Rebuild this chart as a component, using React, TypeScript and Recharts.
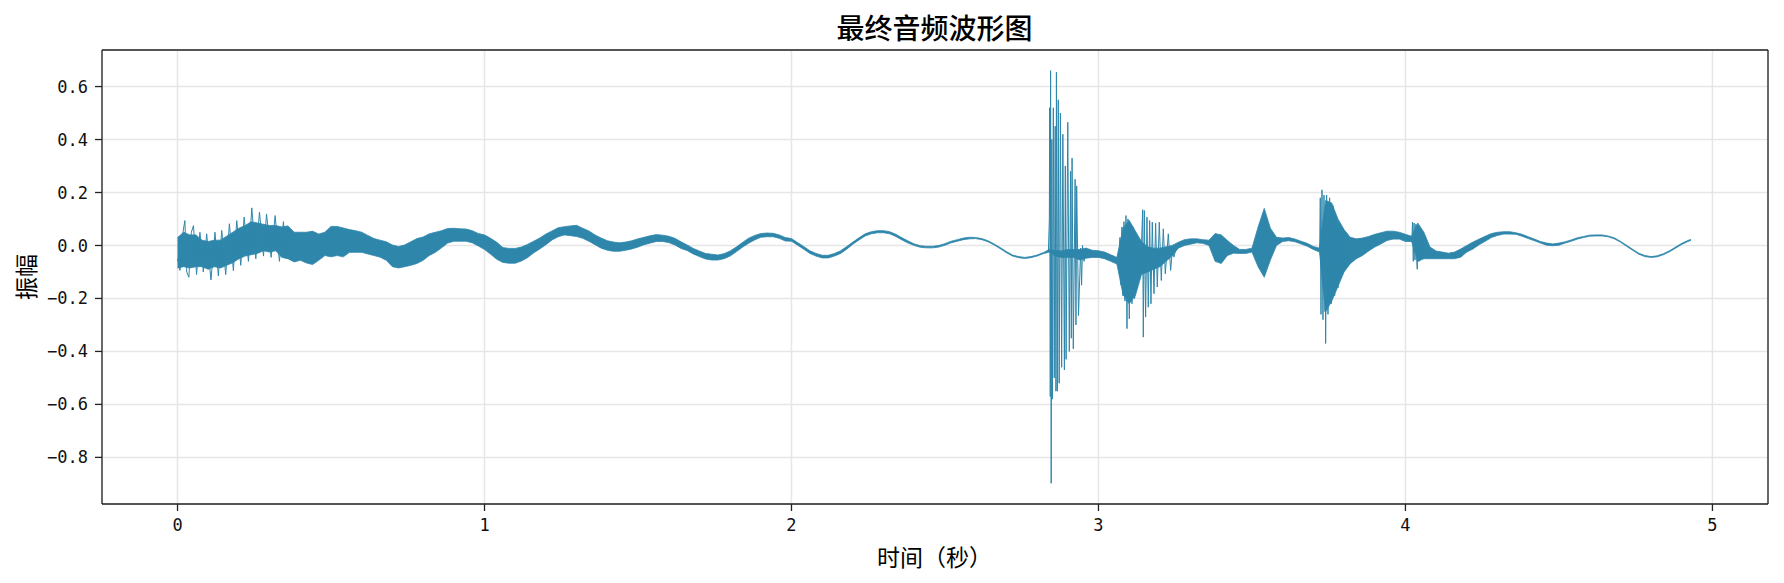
import React from 'react';
import { ComposedChart, Area, Line, XAxis, YAxis, CartesianGrid, ReferenceLine } from 'recharts';

// ---------- axes / labels ----------
const TITLE = '最终音频波形图';
const X_LABEL = '时间（秒）';
const Y_LABEL = '振幅';
const xTicks = [0, 1, 2, 3, 4, 5];
const yTicks = [-0.8, -0.6, -0.4, -0.2, 0.0, 0.2, 0.4, 0.6];
const X_MIN = -0.246;
const X_MAX = 5.181;
const Y_MIN = -0.976;
const Y_MAX = 0.738;

// ---------- waveform envelope, one bin every 0.02 s (0.00 .. 4.92) ----------
const BIN_STEP = 0.02;
const envHigh = [
  0.030, 0.050, 0.040, 0.040, 0.020, 0.015, 0.020, 0.020, 0.035, 0.050, // 0.00
  0.065, 0.075, 0.090, 0.085, 0.080, 0.075, 0.075, 0.070, 0.074, 0.050, // 0.20
  0.050, 0.050, 0.054, 0.043, 0.050, 0.072, 0.072, 0.066, 0.060, 0.056, // 0.40
  0.050, 0.038, 0.026, 0.020, 0.014, 0.002, -0.004, 0.002, 0.014, 0.026, // 0.60
  0.032, 0.044, 0.050, 0.056, 0.064, 0.065, 0.063, 0.062, 0.056, 0.045, // 0.80
  0.040, 0.027, 0.012, -0.008, -0.011, -0.011, -0.006, 0.004, 0.016, 0.028, // 1.00
  0.043, 0.055, 0.067, 0.071, 0.074, 0.076, 0.065, 0.055, 0.040, 0.028, // 1.20
  0.018, 0.013, 0.010, 0.013, 0.018, 0.025, 0.031, 0.037, 0.041, 0.039, // 1.40
  0.035, 0.027, 0.014, 0.002, -0.011, -0.021, -0.030, -0.033, -0.036, -0.031, // 1.60
  -0.021, -0.006, 0.011, 0.027, 0.038, 0.045, 0.047, 0.046, 0.040, 0.030, // 1.80
  0.026, 0.011, -0.004, -0.020, -0.030, -0.037, -0.037, -0.030, -0.020, -0.004, // 2.00
  0.013, 0.029, 0.044, 0.052, 0.056, 0.056, 0.052, 0.042, 0.029, 0.017, // 2.20
  0.006, -0.001, -0.003, -0.003, 0.000, 0.007, 0.016, 0.022, 0.028, 0.031, // 2.40
  0.030, 0.026, 0.018, 0.006, -0.008, -0.023, -0.036, -0.042, -0.045, -0.042, // 2.60
  -0.036, -0.027, -0.015, -0.020, -0.020, -0.015, -0.015, -0.015, -0.010, -0.018, // 2.80
  -0.020, -0.025, -0.035, -0.045, 0.065, 0.095, 0.055, 0.015, -0.005, -0.010, // 3.00
  -0.010, -0.005, 0.000, 0.012, 0.022, 0.025, 0.025, 0.022, 0.020, 0.045, // 3.20
  0.040, 0.019, 0.000, -0.015, -0.015, -0.010, 0.070, 0.140, 0.065, 0.031, // 3.40
  0.028, 0.030, 0.024, 0.016, 0.008, -0.004, -0.010, 0.170, 0.160, 0.100, // 3.60
  0.060, 0.031, 0.025, 0.028, 0.034, 0.042, 0.048, 0.054, 0.054, 0.050, // 3.80
  0.042, 0.035, 0.085, 0.050, -0.006, -0.021, -0.025, -0.029, -0.025, -0.013, // 4.00
  0.000, 0.013, 0.024, 0.035, 0.045, 0.050, 0.052, 0.052, 0.048, 0.042, // 4.20
  0.033, 0.024, 0.015, 0.009, 0.006, 0.009, 0.014, 0.021, 0.029, 0.034, // 4.40
  0.039, 0.040, 0.040, 0.036, 0.029, 0.016, 0.001, -0.014, -0.029, -0.038, // 4.60
  -0.042, -0.039, -0.031, -0.020, -0.006, 0.008, 0.019, // 4.80
];
const envLow = [
  -0.085, -0.080, -0.085, -0.080, -0.080, -0.090, -0.080, -0.085, -0.075, -0.065, // 0.00
  -0.050, -0.040, -0.035, -0.030, -0.020, -0.025, -0.020, -0.045, -0.050, -0.062, // 0.20
  -0.056, -0.066, -0.072, -0.056, -0.038, -0.043, -0.038, -0.043, -0.026, -0.026, // 0.40
  -0.026, -0.032, -0.038, -0.044, -0.056, -0.080, -0.085, -0.080, -0.075, -0.068, // 0.60
  -0.056, -0.038, -0.026, -0.009, 0.009, 0.016, 0.016, 0.016, 0.010, -0.002, // 0.80
  -0.015, -0.033, -0.052, -0.064, -0.067, -0.067, -0.059, -0.046, -0.028, -0.013, // 1.00
  0.003, 0.021, 0.033, 0.040, 0.037, 0.034, 0.027, 0.016, 0.003, -0.010, // 1.20
  -0.018, -0.022, -0.022, -0.018, -0.013, -0.006, 0.003, 0.009, 0.015, 0.015, // 1.40
  0.011, 0.002, -0.011, -0.019, -0.032, -0.042, -0.051, -0.055, -0.055, -0.050, // 1.60
  -0.040, -0.024, -0.007, 0.008, 0.021, 0.031, 0.033, 0.033, 0.027, 0.017, // 1.80
  0.016, 0.001, -0.014, -0.030, -0.040, -0.047, -0.047, -0.040, -0.030, -0.014, // 2.00
  0.005, 0.021, 0.036, 0.044, 0.048, 0.048, 0.044, 0.034, 0.021, 0.009, // 2.20
  0.000, -0.007, -0.009, -0.009, -0.006, 0.001, 0.010, 0.016, 0.022, 0.025, // 2.40
  0.026, 0.022, 0.014, 0.002, -0.012, -0.027, -0.040, -0.046, -0.049, -0.046, // 2.60
  -0.040, -0.031, -0.025, -0.040, -0.045, -0.045, -0.045, -0.055, -0.048, -0.045, // 2.80
  -0.045, -0.050, -0.060, -0.070, -0.185, -0.220, -0.190, -0.110, -0.100, -0.090, // 3.00
  -0.080, -0.060, -0.040, -0.010, 0.000, 0.005, 0.010, 0.008, 0.000, -0.060, // 3.20
  -0.068, -0.038, -0.029, -0.030, -0.030, -0.025, -0.080, -0.120, -0.055, 0.000, // 3.40
  0.015, 0.018, 0.014, 0.006, -0.003, -0.015, -0.025, -0.250, -0.210, -0.155, // 3.60
  -0.100, -0.069, -0.050, -0.038, -0.021, -0.006, 0.006, 0.019, 0.024, 0.024, // 3.80
  0.015, 0.015, -0.060, -0.050, -0.050, -0.050, -0.050, -0.050, -0.050, -0.044, // 4.00
  -0.025, -0.013, 0.003, 0.016, 0.030, 0.038, 0.043, 0.043, 0.042, 0.035, // 4.20
  0.026, 0.018, 0.009, 0.001, -0.001, 0.001, 0.009, 0.016, 0.024, 0.030, // 4.40
  0.035, 0.036, 0.036, 0.033, 0.025, 0.013, -0.003, -0.018, -0.033, -0.042, // 4.60
  -0.045, -0.043, -0.035, -0.024, -0.010, 0.004, 0.015, // 4.80
];
const endT = 4.93;
const endHigh = 0.023;
const endLow = 0.019;

// ---------- individual strokes (onset and bursts) ----------
const onsetT = [0.000, 0.008, 0.015, 0.024, 0.030, 0.037, 0.045, 0.052, 0.062, 0.073, 0.084, 0.095, 0.109, 0.122, 0.133, 0.144, 0.157, 0.169, 0.182, 0.193, 0.206, 0.217, 0.231, 0.242, 0.255, 0.267, 0.280, 0.290, 0.305, 0.318, 0.332, 0.345, 0.355];
const onsetV = [-0.05, -0.094, 0.03, 0.094, -0.10, -0.12, 0.05, 0.075, -0.11, 0.05, -0.10, 0.044, -0.13, 0.05, -0.115, 0.057, -0.11, 0.082, -0.095, 0.094, -0.075, 0.107, -0.06, 0.142, -0.05, 0.126, -0.04, 0.119, -0.045, 0.113, -0.06, 0.09, -0.05];

const burst1T = [2.8370, 2.8400, 2.8410, 2.8430, 2.8440, 2.8460, 2.8480, 2.8500, 2.8530, 2.8560, 2.8590, 2.8615, 2.8630, 2.8660, 2.8690, 2.8720, 2.8760, 2.8800, 2.8840, 2.8890, 2.8920, 2.8945, 2.9000, 2.9050, 2.9090, 2.9115, 2.9140, 2.9180, 2.9240, 2.9267, 2.9290, 2.9350, 2.9420, 2.9450, 2.9480, 2.9530, 2.9590, 2.9630, 2.9680];
const burst1V = [-0.02, 0.10, 0.52, -0.57, 0.66, -0.898, 0.40, -0.58, 0.52, -0.50, 0.45, -0.55, 0.654, -0.55, 0.55, -0.52, 0.50, -0.46, 0.42, -0.47, 0.30, -0.43, 0.465, -0.40, 0.28, -0.35, 0.33, -0.39, 0.25, -0.30, 0.225, -0.264, -0.01, -0.15, 0.00, -0.06, -0.01, -0.04, -0.02];

const burst2T = [3.0668, 3.0700, 3.0733, 3.0765, 3.0798, 3.0831, 3.0863, 3.0896, 3.0928, 3.0961, 3.1004, 3.1048, 3.1091, 3.1135, 3.1178, 3.1222, 3.1265, 3.1308, 3.1352, 3.1395, 3.1439, 3.1460, 3.1493, 3.1536, 3.1580, 3.1623, 3.1667, 3.1710, 3.1753, 3.1808, 3.1862, 3.1916, 3.1981, 3.2047, 3.2112, 3.2177, 3.2275, 3.2351, 3.2416, 3.2459, 3.2524];
const burst2V = [-0.05, 0.03, -0.15, 0.07, -0.19, 0.09, -0.21, 0.113, -0.314, 0.10, -0.277, 0.08, -0.22, 0.07, -0.20, 0.04, -0.16, 0.02, -0.12, -0.02, 0.135, -0.346, 0.132, -0.27, 0.107, -0.233, 0.094, -0.22, 0.088, -0.182, 0.084, -0.157, 0.088, -0.132, 0.063, -0.107, 0.044, -0.094, -0.006, -0.044, -0.01];

const burst5T = [3.7205, 3.7226, 3.7248, 3.7281, 3.7313, 3.7346, 3.7378, 3.7389, 3.7400, 3.7432, 3.7476, 3.7530, 3.7584, 3.7639, 3.7693, 3.7748, 3.7802, 3.7856, 3.7910, 3.7965, 3.8020, 3.8070];
const burst5V = [-0.02, 0.18, -0.26, 0.21, -0.28, 0.19, -0.25, 0.12, -0.37, 0.19, -0.26, 0.18, -0.22, 0.15, -0.19, 0.11, -0.16, 0.07, -0.12, 0.04, -0.08, 0.02];

const burst6T = [4.0210, 4.0230, 4.0255, 4.0280, 4.0310, 4.0340, 4.0370, 4.0385, 4.0410, 4.0440, 4.0480];
const burst6V = [0.020, 0.088, -0.060, 0.085, -0.055, 0.080, -0.065, -0.090, 0.070, -0.060, 0.060];

// ---------- tables for the library ----------
const bandData = envHigh
  .map((h, i) => ({ t: Number((i * BIN_STEP).toFixed(2)), band: [envLow[i], h] }))
  .concat([{ t: endT, band: [endLow, endHigh] }]);
const toPoints = (ts: number[], vs: number[]) => ts.map((t, i) => ({ t, v: vs[i] }));
const strokeSets = [
  toPoints(onsetT, onsetV),
  toPoints(burst1T, burst1V),
  toPoints(burst2T, burst2V),
  toPoints(burst5T, burst5V),
  toPoints(burst6T, burst6V),
];

const WAVE = '#2E86AB';
const AXIS = '#222222';
const MONO = "'DejaVu Sans Mono', monospace";
const CJK = "'Noto Sans CJK SC', 'Noto Sans', sans-serif";

const fmtY = (v: number) => (v < -1e-9 ? '\u2212' : '') + Math.abs(v).toFixed(1);

export default function App() {
  return (
    <div style={{ position: 'absolute', left: 0, top: 0, width: 1784, height: 583, background: '#ffffff' }}>
      <ComposedChart width={1784} height={583} data={bandData} margin={{ top: 50, right: 16, bottom: 0, left: 0 }}>
        <CartesianGrid stroke="#e6e6e6" strokeWidth={1.5} />
        <XAxis
          type="number"
          dataKey="t"
          domain={[X_MIN, X_MAX]}
          ticks={xTicks}
          interval={0}
          allowDataOverflow
          height={79}
          tickSize={7}
          tickMargin={8}
          axisLine={{ stroke: AXIS, strokeWidth: 1.3 }}
          tickLine={{ stroke: AXIS, strokeWidth: 1.3 }}
          tick={{ fill: '#111', fontSize: 17, fontFamily: MONO }}
        />
        <YAxis
          type="number"
          domain={[Y_MIN, Y_MAX]}
          ticks={yTicks}
          interval={0}
          allowDataOverflow
          width={102}
          tickSize={7}
          tickMargin={7}
          tickFormatter={fmtY}
          axisLine={{ stroke: AXIS, strokeWidth: 1.3 }}
          tickLine={{ stroke: AXIS, strokeWidth: 1.3 }}
          tick={{ fill: '#111', fontSize: 17, fontFamily: MONO }}
        />
        <Area
          type="linear"
          dataKey="band"
          stroke={WAVE}
          strokeWidth={0.8}
          fill={WAVE}
          fillOpacity={1}
          dot={false}
          activeDot={false}
          isAnimationActive={false}
        />
        {strokeSets.map((pts, i) => (
          <Line
            key={i}
            data={pts}
            type="linear"
            dataKey="v"
            stroke={WAVE}
            strokeWidth={1}
            dot={false}
            activeDot={false}
            isAnimationActive={false}
          />
        ))}
        <ReferenceLine y={Y_MAX} stroke={AXIS} strokeWidth={1.3} />
        <ReferenceLine x={X_MAX} stroke={AXIS} strokeWidth={1.3} />
      </ComposedChart>
      <div style={{ position: 'absolute', left: 934.5, top: 26.5, transform: 'translate(-50%, -50%)', fontFamily: CJK, fontSize: 28, fontWeight: 500, lineHeight: '28px', color: '#000', whiteSpace: 'nowrap' }}>
        {TITLE}
      </div>
      <div style={{ position: 'absolute', left: 934.5, top: 556, transform: 'translate(-50%, -50%)', fontFamily: CJK, fontSize: 23, lineHeight: '23px', color: '#000', whiteSpace: 'nowrap' }}>
        {X_LABEL}
      </div>
      <div style={{ position: 'absolute', left: 25, top: 276.5, transform: 'translate(-50%, -50%) rotate(-90deg)', fontFamily: CJK, fontSize: 23, lineHeight: '23px', color: '#000', whiteSpace: 'nowrap' }}>
        {Y_LABEL}
      </div>
    </div>
  );
}
